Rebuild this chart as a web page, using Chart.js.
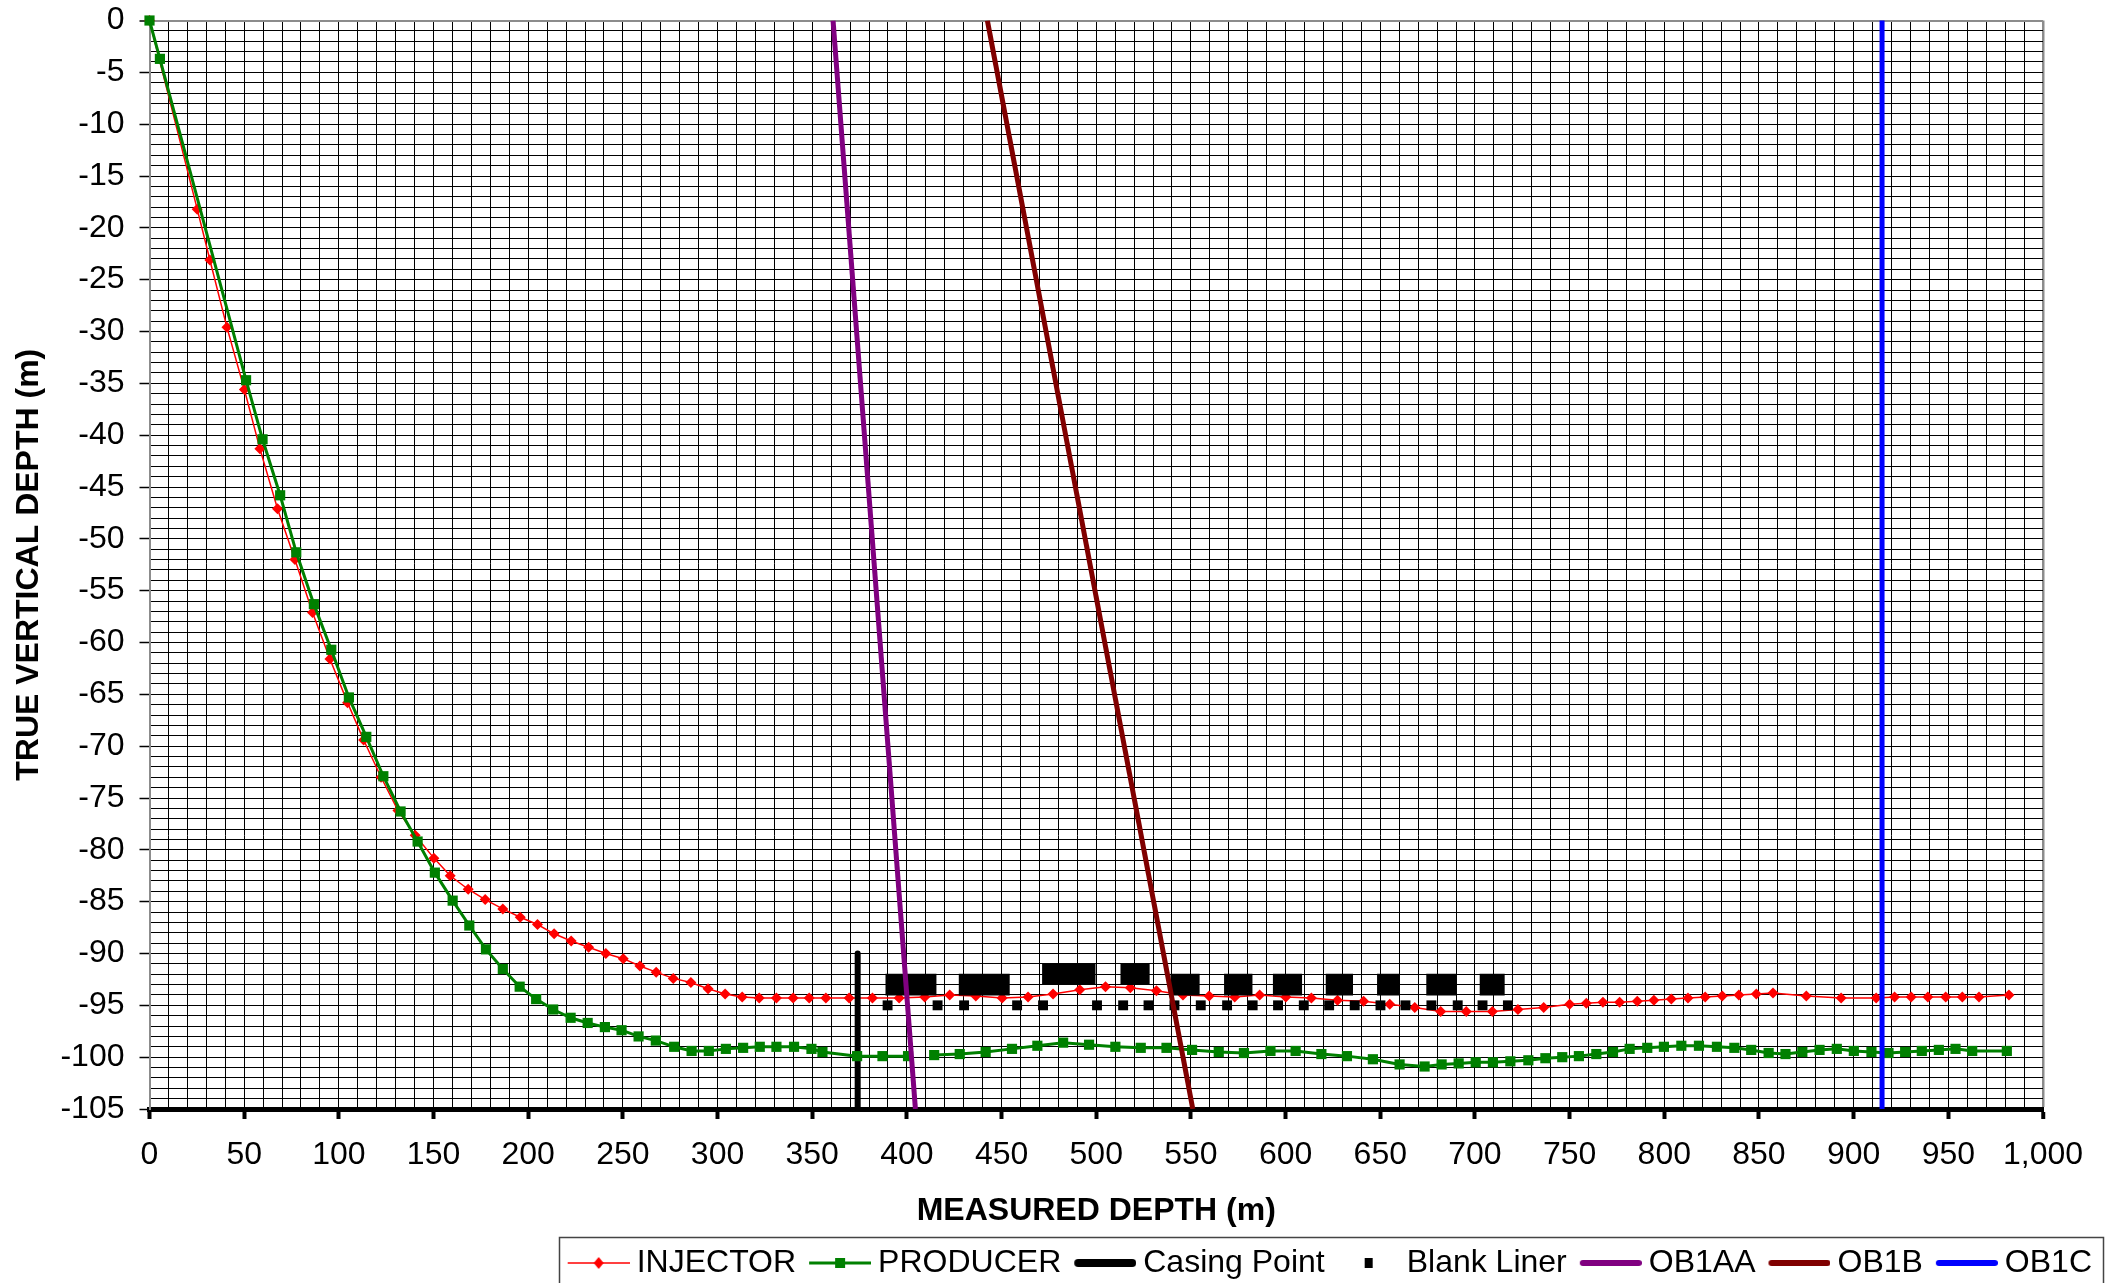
<!DOCTYPE html>
<html>
<head>
<meta charset="utf-8">
<script src="https://cdn.jsdelivr.net/npm/chart.js@4/dist/chart.umd.min.js"></script>
<style>
html,body{margin:0;padding:0;background:#ffffff;}
canvas{display:block;}
</style>
</head>
<body>
<canvas id="c" width="2112" height="1283"></canvas>
<script>
// ---------------- DATA ----------------
const injectorMD = [0, 25.2, 31.9, 40.9, 50.1, 58.3, 67.6, 76.8, 86.1, 95.3, 104.6, 113.1, 122.3, 131.2, 140.3, 150.2, 158.8, 168.3, 177.3, 186.6, 195.8, 204.9, 213.7, 222.7, 231.9, 241.0, 250.2, 259.0, 267.6, 276.6, 285.9, 295.0, 304.0, 313.0, 322.0, 331.1, 339.9, 348.4, 357.2, 369.5, 381.8, 395.9, 409.4, 422.6, 436.4, 450.3, 464.0, 477.2, 491.3, 504.9, 518.0, 531.8, 545.8, 559.6, 573.1, 586.3, 600.1, 613.6, 627.4, 641.2, 655.0, 668.2, 681.9, 695.4, 709.2, 722.7, 736.3, 750.0, 758.8, 767.6, 776.4, 785.7, 794.5, 803.7, 812.5, 821.6, 830.6, 839.4, 848.6, 857.4, 875.0, 893.4, 911.9, 921.6, 930.4, 939.2, 948.6, 957.4, 966.2, 982.0];
const injectorTVD = [0, -18.2, -23.1, -29.6, -35.6, -41.3, -47.1, -52.0, -57.1, -61.6, -65.8, -69.4, -73.0, -76.2, -78.6, -80.8, -82.5, -83.8, -84.8, -85.7, -86.5, -87.2, -88.1, -88.8, -89.4, -90.0, -90.5, -91.2, -91.8, -92.4, -92.8, -93.4, -93.9, -94.2, -94.3, -94.3, -94.3, -94.3, -94.3, -94.3, -94.3, -94.3, -94.2, -94.0, -94.1, -94.3, -94.2, -93.9, -93.5, -93.2, -93.3, -93.6, -94.0, -94.1, -94.2, -94.0, -94.2, -94.3, -94.5, -94.6, -94.9, -95.2, -95.6, -95.6, -95.6, -95.4, -95.2, -94.9, -94.8, -94.7, -94.7, -94.6, -94.5, -94.4, -94.3, -94.2, -94.1, -94.0, -93.9, -93.8, -94.1, -94.3, -94.3, -94.2, -94.2, -94.2, -94.2, -94.2, -94.2, -94.0];

const producerMD = [0, 5.5, 51.0, 59.7, 69.0, 77.5, 86.8, 96.0, 105.3, 114.5, 123.5, 132.6, 141.6, 150.7, 160.1, 168.9, 177.7, 186.6, 195.5, 204.2, 213.2, 222.4, 231.4, 240.5, 249.3, 258.3, 267.4, 277.1, 286.3, 295.4, 304.4, 313.5, 322.3, 331.1, 340.4, 349.6, 355.4, 373.7, 387.1, 400.6, 407.5, 414.4, 427.9, 441.6, 455.5, 468.9, 482.5, 496.2, 510.1, 523.5, 537.1, 550.6, 564.7, 578.0, 592.0, 605.3, 618.9, 632.4, 646.1, 660.2, 673.4, 682.4, 691.4, 700.4, 709.5, 718.7, 728.2, 737.2, 746.1, 754.9, 764.1, 772.9, 781.7, 791.0, 799.8, 809.0, 818.3, 827.8, 837.0, 845.9, 855.1, 864.0, 872.9, 882.0, 891.1, 900.1, 909.4, 918.4, 927.2, 936.0, 945.0, 953.8, 962.6, 980.9];
const producerTVD = [0, -3.7, -34.7, -40.4, -45.8, -51.3, -56.3, -60.7, -65.3, -69.1, -72.9, -76.3, -79.2, -82.2, -84.9, -87.3, -89.6, -91.5, -93.2, -94.4, -95.4, -96.2, -96.7, -97.1, -97.4, -98.0, -98.4, -99.0, -99.4, -99.4, -99.2, -99.1, -99.0, -99.0, -99.0, -99.2, -99.5, -99.9, -99.9, -99.9, null, -99.8, -99.7, -99.5, -99.2, -98.9, -98.6, -98.8, -99.0, -99.1, -99.1, -99.3, -99.5, -99.6, -99.4, -99.4, -99.7, -99.9, -100.2, -100.7, -100.9, -100.7, -100.6, -100.5, -100.5, -100.4, -100.3, -100.1, -100.0, -99.9, -99.7, -99.5, -99.2, -99.1, -99.0, -98.9, -98.9, -99.0, -99.1, -99.3, -99.6, -99.7, -99.5, -99.3, -99.2, -99.4, -99.5, -99.6, -99.5, -99.4, -99.3, -99.2, -99.4, -99.4];

const casingMD = [374, 374];
const casingTVD = [-90, -105];

const blankLinerMD = [389.8, 416.2, 430.2, 458.2, 471.9, 500.4, 514.2, 527.6, 541.3, 555.2, 569.1, 582.6, 596.0, 609.6, 623.0, 636.5, 650.1, 663.3, 677.0, 690.9, 704.0, 717.4];
const blankLinerTVD = [-95, -95, -95, -95, -95, -95, -95, -95, -95, -95, -95, -95, -95, -95, -95, -95, -95, -95, -95, -95, -95, -95];

const linerBlockStart = [388.7, 427.4, 471.4, 512.8, 539.2, 567.5, 593.3, 621.2, 648.3, 674.3, 702.5];
const linerBlockEnd   = [415.6, 454.3, 499.6, 528.2, 554.6, 582.5, 608.7, 635.6, 660.3, 690.5, 715.7];
const linerBlockTVD   = [-93, -93, -92, -92, -93, -93, -93, -93, -93, -93, -93];

const ob1aaMD = [361, 404.5];
const ob1aaTVD = [0, -105];
const ob1bMD = [442.5, 551];
const ob1bTVD = [0, -105];
const ob1cMD = [915, 915];
const ob1cTVD = [0, -105];

const xMin = 0, xMax = 1000, xGridStep = 10, xLabelStep = 50;
const yMin = -105, yMax = 0, yGridStep = 1, yLabelStep = 5;
const xTitle = 'MEASURED DEPTH (m)';
const yTitle = 'TRUE VERTICAL DEPTH (m)';
const seriesNames = ['INJECTOR', 'PRODUCER', 'Casing Point', 'Blank Liner', 'OB1AA', 'OB1B', 'OB1C'];

// ---------------- BUILD ----------------
const pts = (xs, ys) => xs.map((x, i) => ({x: x, y: ys[i]}));
const blockPts = [];
linerBlockStart.forEach((s, i) => {
  if (i > 0) blockPts.push({x: (linerBlockEnd[i - 1] + s) / 2, y: null});
  blockPts.push({x: s, y: linerBlockTVD[i]});
  blockPts.push({x: linerBlockEnd[i], y: linerBlockTVD[i]});
});

function legendIcon(kind, color) {
  const c = document.createElement('canvas');
  c.width = 71; c.height = 24;
  const g = c.getContext('2d');
  const y = 12, x0 = 9, x1 = 71, cx = 40;
  g.strokeStyle = color; g.fillStyle = color;
  if (kind === 'injector') {
    g.lineWidth = 1.5;
    g.beginPath(); g.moveTo(x0, y); g.lineTo(x1, y); g.stroke();
    g.beginPath(); g.moveTo(cx - 5, y); g.lineTo(cx, y - 6); g.lineTo(cx + 5, y); g.lineTo(cx, y + 6); g.closePath(); g.fill();
  } else if (kind === 'producer') {
    g.lineWidth = 3;
    g.beginPath(); g.moveTo(x0, y); g.lineTo(x1, y); g.stroke();
    g.fillRect(cx - 5, y - 5, 10, 10);
  } else if (kind === 'casing') {
    g.lineWidth = 8; g.lineCap = 'round';
    g.beginPath(); g.moveTo(x0 + 4, y); g.lineTo(x1 - 4, y); g.stroke();
  } else if (kind === 'liner') {
    g.fillRect(cx - 4, y - 5, 8, 10);
  } else {
    g.lineWidth = 6; g.lineCap = 'round';
    g.beginPath(); g.moveTo(x0 + 3, y); g.lineTo(x1 - 3, y); g.stroke();
  }
  return c;
}

const datasets = [
  {label: seriesNames[0], data: pts(injectorMD, injectorTVD), borderColor: '#FF0000', backgroundColor: '#FF0000', borderWidth: 1.5,
   pointStyle: 'rectRot', pointRadius: 5.5, pointBorderWidth: 0, pointBackgroundColor: '#FF0000', order: 8, clip: false, icon: legendIcon('injector', '#FF0000')},
  {label: seriesNames[1], data: pts(producerMD, producerTVD), borderColor: '#008000', backgroundColor: '#008000', borderWidth: 3,
   pointStyle: 'rect', pointRadius: 7.2, pointBorderWidth: 0, pointBackgroundColor: '#008000', order: 6, clip: false, icon: legendIcon('producer', '#008000')},
  {label: seriesNames[2], data: pts(casingMD, casingTVD), borderColor: '#000000', backgroundColor: '#000000', borderWidth: 6,
   borderCapStyle: 'round', pointRadius: 0, order: 7, clip: false, icon: legendIcon('casing', '#000000')},
  {label: seriesNames[3], data: pts(blankLinerMD, blankLinerTVD), showLine: false, borderColor: '#000000', backgroundColor: '#000000',
   pointStyle: 'rect', pointRadius: 7, pointBorderWidth: 0, pointBackgroundColor: '#000000', order: 5, clip: false, icon: legendIcon('liner', '#000000')},
  {label: seriesNames[4], data: pts(ob1aaMD, ob1aaTVD), borderColor: '#800080', backgroundColor: '#800080', borderWidth: 5, pointRadius: 0, order: 3, icon: legendIcon('ob', '#800080')},
  {label: seriesNames[5], data: pts(ob1bMD, ob1bTVD), borderColor: '#800000', backgroundColor: '#800000', borderWidth: 5, pointRadius: 0, order: 2, icon: legendIcon('ob', '#800000')},
  {label: seriesNames[6], data: pts(ob1cMD, ob1cTVD), borderColor: '#0000FF', backgroundColor: '#0000FF', borderWidth: 5, pointRadius: 0, order: 1, clip: false, icon: legendIcon('ob', '#0000FF')},
  {label: 'Liner Blocks', data: blockPts, borderColor: '#000000', backgroundColor: '#000000', borderWidth: 21.7, borderCapStyle: 'butt',
   pointRadius: 0, spanGaps: false, order: 4, isBlock: true}
];

const legendBorder = {
  id: 'legendBorder',
  afterDraw(chart) {
    const lg = chart.legend;
    if (!lg || !lg.legendHitBoxes || !lg.legendHitBoxes.length) return;
    const hb = lg.legendHitBoxes;
    const first = hb[0], last = hb[hb.length - 1];
    const left = Math.round(first.left - 9) + 0.5;
    const right = Math.round(last.left + last.width + 11) + 0.5;
    const top = Math.round(lg.top + 3) + 0.5;
    const ctx = chart.ctx;
    ctx.save();
    ctx.strokeStyle = '#444444';
    ctx.lineWidth = 1.5;
    ctx.strokeRect(left, top, right - left, 80);
    ctx.restore();
  }
};

Chart.defaults.font.family = "'Liberation Sans', Arial, Helvetica, sans-serif";
Chart.defaults.font.size = 32;
Chart.defaults.color = '#000000';

new Chart(document.getElementById('c'), {
  type: 'line',
  data: {datasets: datasets},
  options: {
    responsive: false,
    animation: false,
    devicePixelRatio: 1,
    layout: {padding: {left: 0, right: 7, top: 20.5, bottom: -6}},
    plugins: {
      tooltip: {enabled: false},
      legend: {
        display: true,
        position: 'bottom',
        align: 'end',
        labels: {
          usePointStyle: true,
          pointStyleWidth: 53,
          padding: 13,
          color: '#000000',
          font: {size: 32},
          generateLabels(chart) {
            return chart.data.datasets.map((ds, i) => ({ds, i})).filter(o => !o.ds.isBlock).map(o => ({
              text: o.ds.label,
              pointStyle: o.ds.icon,
              fillStyle: o.ds.borderColor,
              strokeStyle: o.ds.borderColor,
              lineWidth: 0,
              hidden: false,
              datasetIndex: o.i,
              fontColor: '#000000'
            }));
          }
        }
      }
    },
    scales: {
      x: {
        type: 'linear',
        position: 'bottom',
        min: xMin, max: xMax,
        afterFit(scale) { scale.height = 125; scale.paddingRight = 69; },
        ticks: {
          stepSize: xGridStep,
          autoSkip: false,
          maxRotation: 0,
          padding: 17,
          font: {size: 32},
          callback: v => (Math.abs(v % xLabelStep) < 1e-6 ? Number(v).toLocaleString('en-US') : '')
        },
        grid: {
          drawOnChartArea: true,
          drawTicks: true,
          tickLength: 10,
          color: ctx => (ctx.tick && (ctx.tick.value === xMin || ctx.tick.value === xMax)) ? '#8c8c8c' : '#000000',
          lineWidth: ctx => (ctx.tick && ctx.tick.value === xMax) ? 2.5 : 1,
          tickColor: ctx => (ctx.tick && Math.abs(ctx.tick.value % xLabelStep) < 1e-6) ? '#000000' : 'rgba(0,0,0,0)',
          tickWidth: 4
        },
        border: {display: true, color: '#000000', width: 5},
        title: {display: true, text: xTitle, font: {size: 32, weight: 'bold'}, padding: {top: 0, bottom: 4}}
      },
      y: {
        type: 'linear',
        position: 'left',
        min: yMin, max: yMax,
        afterFit(scale) { scale.width = 149.5; scale.paddingTop = 0; scale.paddingBottom = 0; },
        ticks: {
          stepSize: yGridStep,
          autoSkip: false,
          padding: 15,
          font: {size: 32},
          callback: v => (Math.abs(v % yLabelStep) < 1e-6 ? String(Math.round(v)) : '')
        },
        grid: {
          drawTicks: true,
          tickLength: 10,
          color: ctx => {
            if (!ctx.tick) return '#000000';
            if (ctx.tick.value === yMax) return '#8c8c8c';
            if (ctx.tick.value === yMin) return 'rgba(0,0,0,0)';
            return '#000000';
          },
          lineWidth: ctx => (ctx.tick && ctx.tick.value === yMax) ? 2 : 1,
          tickColor: ctx => (ctx.tick && Math.abs(ctx.tick.value % yLabelStep) < 1e-6) ? '#000000' : 'rgba(0,0,0,0)',
          tickWidth: 1.5
        },
        border: {display: true, color: '#8c8c8c', width: 2},
        title: {display: true, text: yTitle, font: {size: 32, weight: 'bold'}, padding: {top: 10, bottom: 0}}
      }
    }
  },
  plugins: [legendBorder]
});
</script>
</body>
</html>
